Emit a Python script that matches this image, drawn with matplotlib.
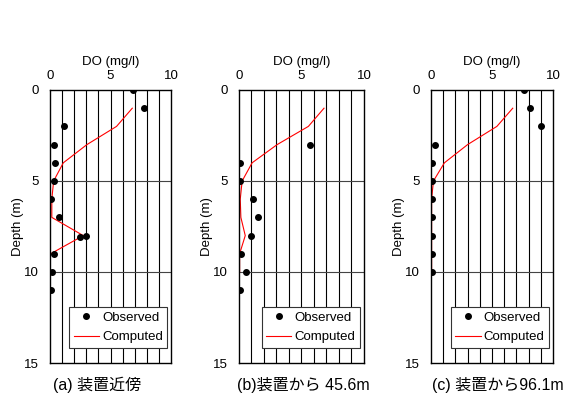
import matplotlib.pyplot as plt

plt.rcParams['font.family'] = ['Liberation Sans', 'Noto Sans CJK JP']

titles = ['(a) 装置近傍', '(b)装置から 45.6m', '(c) 装置から96.1m']

# observed DO (mg/l) vs depth (m)
obs_depth_a = [0, 1, 2, 3, 4, 5, 6, 7, 8, 8.1, 9, 10, 11]
obs_do_a = [6.9, 7.8, 1.15, 0.3, 0.45, 0.3, 0.05, 0.75, 2.95, 2.5, 0.35, 0.15, 0.05]
obs_depth_b = [3, 4, 5, 6, 7, 8, 9, 10, 11]
obs_do_b = [5.7, 0.05, 0.05, 1.15, 1.5, 0.95, 0.15, 0.55, 0.05]
obs_depth_c = [0, 1, 2, 3, 4, 5, 6, 7, 8, 9, 10]
obs_do_c = [7.6, 8.1, 9.0, 0.3, 0.05, 0.05, 0.05, 0.05, 0.05, 0.05, 0.05]

# computed
cmp_depth_a = [1, 2, 3, 4, 5, 6, 7, 8, 9]
cmp_do_a = [6.8, 5.5, 3.05, 1.1, 0.3, 0.15, 0.15, 2.75, 0.05]
cmp_depth_b = [1, 2, 3, 4, 5, 6, 7, 8, 9, 10]
cmp_do_b = [6.8, 5.55, 3.05, 1.05, 0.25, 0.1, 0.15, 0.5, 0.05, 0.05]
cmp_depth_c = [1, 2, 3, 4, 5, 6, 7, 8, 9, 10]
cmp_do_c = [6.7, 5.4, 3.0, 1.1, 0.2, 0.05, 0.05, 0.05, 0.05, 0.05]

obs = [(obs_do_a, obs_depth_a), (obs_do_b, obs_depth_b), (obs_do_c, obs_depth_c)]
cmp = [(cmp_do_a, cmp_depth_a), (cmp_do_b, cmp_depth_b), (cmp_do_c, cmp_depth_c)]

fig = plt.figure(figsize=(5.64, 3.96), dpi=100)
lefts = [50, 239, 431]
widths = [121, 125, 122]
title_x = [97, 303, 498]

for i in range(3):
    ax = fig.add_axes([lefts[i] / 564, 1 - 363 / 396, widths[i] / 564, 273 / 396])
    for x in range(1, 10):
        ax.axvline(x, color='black', lw=0.8, zorder=1)
    for y in [5, 10]:
        ax.axhline(y, color='#444444', lw=0.8, zorder=1)
    ax.plot(cmp[i][0], cmp[i][1], color='red', lw=0.8, label='Computed', zorder=2)
    ax.plot(obs[i][0], obs[i][1], 'o', color='black', ms=4, label='Observed', zorder=3)
    ax.set_xlim(0, 10)
    ax.set_ylim(15, 0)
    ax.set_xticks([0, 5, 10])
    ax.set_yticks([0, 5, 10, 15])
    ax.xaxis.tick_top()
    ax.xaxis.set_label_position('top')
    ax.tick_params(length=0, labelsize=9.5)
    ax.tick_params(axis='x', pad=6)
    ax.tick_params(axis='y', pad=8)
    ax.set_xlabel('DO (mg/l)', fontsize=9.5, labelpad=3)
    ax.set_ylabel('Depth (m)', fontsize=9.5, labelpad=0)
    for s in ax.spines.values():
        s.set_linewidth(1.0)
    h, l = ax.get_legend_handles_labels()
    leg = ax.legend([h[1], h[0]], [l[1], l[0]], loc='lower right', bbox_to_anchor=(0.97, 0.055),
                    fontsize=9.5, frameon=True, fancybox=False, handlelength=1.9,
                    borderpad=0.35, labelspacing=0.55, handletextpad=0.25, borderaxespad=0)
    leg.get_frame().set_edgecolor('#333333')
    leg.get_frame().set_linewidth(0.8)
    leg.get_frame().set_alpha(1)
    fig.text(title_x[i] / 564, 1 - 385 / 396, titles[i],
             ha='center', va='center', fontsize=11.5)

fig.savefig('out.png', dpi=100)
